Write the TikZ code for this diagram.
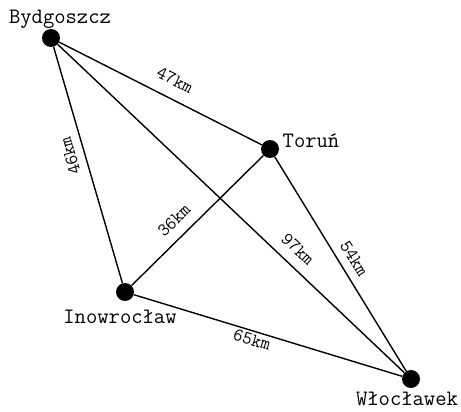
\documentclass[tikz,border=0pt]{standalone}
\usepackage{fontspec}
\usepackage{tikz}
\usetikzlibrary{positioning, calc}

\begin{document}
\begin{tikzpicture}[
        x=1pt, y=-1pt,
        town/.style={circle,fill=black,inner sep=0pt,minimum size=18pt},
        townname/.style={font=\ttfamily\fontsize{22}{24}\selectfont,inner sep=0pt,anchor=base},
        road/.style={line width=1.4pt,black},
        dist/.style={font=\ttfamily\fontsize{18.5}{20}\selectfont,sloped,inner sep=#1},
        dist/.default=8pt
      ]
        \useasboundingbox (0,0) rectangle (461,412);

        % towns
        \node[town] (bydg)  at (51,38)  {};
        \node[town] (torun) at (270,149) {};
        \node[town] (inow)  at (125,292) {};
        \node[town] (wloc)  at (411,379) {};

        \node[townname] (bydgname)  at (60,23.5)  {Bydgoszcz};
        \node[townname] (torunname) at (311,147)  {Toruń};
        \node[townname] (inowname)  at (120,323)  {Inowrocław};
        \node[townname] (wlocname)  at (407,405)  {Włocławek};

        % roads
        \draw[road](bydg)--node[dist=12pt,pos=0.53,above]{47km}(torun);
        \draw[road](inow)--node[dist=8pt,pos=0.555,above,allow upside down]{46km}(bydg);
        \draw[road](inow)--node[dist=10pt,pos=0.41,above]{36km}(torun);
        \draw[road](bydg)--node[dist=10pt,pos=0.66,above]{97km}(wloc);
        \draw[road](torun)--node[dist=8pt,pos=0.51,above]{54km}(wloc);
        \draw[road](inow)--node[dist=2pt,pos=0.45,below]{65km}(wloc);
      \end{tikzpicture}
\end{document}
